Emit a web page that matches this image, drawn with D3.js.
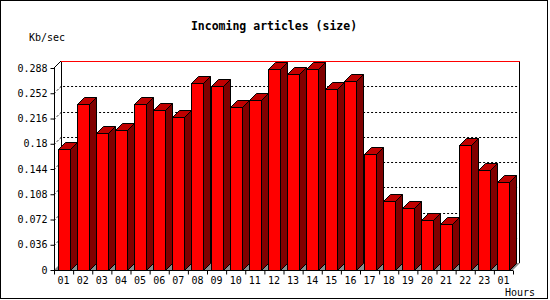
<!DOCTYPE html>
<html>
<head>
<meta charset="utf-8">
<script src="https://cdn.jsdelivr.net/npm/d3@7"></script>
<style>
  body { margin: 0; background: #fff; }
  text { font-family: "DejaVu Sans Mono", monospace; }
</style>
</head>
<body>
<svg id="graph" width="550" height="300"></svg>
<script>
// Hour labels along the x axis
var hours = ["01", "02", "03", "04", "05", "06", "07", "08", "09", "10", "11", "12",
             "13", "14", "15", "16", "17", "18", "19", "20", "21", "22", "23", "01"];

// Incoming article size, Kb/sec
var values = [0.173, 0.236, 0.195, 0.199, 0.236, 0.228, 0.218, 0.267, 0.262, 0.232, 0.242, 0.287,
              0.279, 0.286, 0.258, 0.270, 0.165, 0.098, 0.089, 0.072, 0.066, 0.178, 0.142, 0.125];

// Y tick values and their labels
var yTicks = [0, 0.036, 0.072, 0.108, 0.144, 0.18, 0.216, 0.252, 0.288];
var yLabels = ["0", "0.036", "0.072", "0.108", "0.144", "0.18", "0.216", "0.252", "0.288"];

var svg = d3.select("#graph"),
    width = +svg.attr("width"),
    height = +svg.attr("height"),
    margin = {top: 68, right: 37, bottom: 30, left: 54};

// 3D depth offset
var depth = 7;

var x0 = margin.left, x1 = width - margin.right,
    y0 = height - margin.bottom, y1 = margin.top;

// Scales
var yScale = d3.scaleLinear().domain([0, 0.288]).range([y0, y1]);
var xPos = d3.scaleLinear().domain([0, hours.length]).range([x0, x1]);
var xBand = d3.scaleBand().domain(d3.range(hours.length)).range([x0, x1])
    .paddingInner(0.37).paddingOuter(0.185);

// Outer border
svg.append("rect").attr("x", 0.5).attr("y", 0.5).attr("width", 547).attr("height", 298)
    .attr("fill", "#fff").attr("stroke", "#000");

// Title and axis names
svg.append("text").attr("x", 274).attr("y", 30).attr("text-anchor", "middle")
    .style("font-size", "11.5px").style("font-weight", "bold").text("Incoming articles (size)");
svg.append("text").attr("x", 29).attr("y", 41).style("font-size", "10px").text("Kb/sec");
svg.append("text").attr("x", 505).attr("y", 296).style("font-size", "10px").text("Hours");

// Floor
svg.append("path")
    .attr("d", "M" + x0 + "," + y0 + "L" + (x0 + depth) + "," + (y0 - depth) +
               "L" + (x1 + depth) + "," + (y0 - depth) + "L" + x1 + "," + y0 + "Z")
    .attr("fill", "#8c8c8c");

// Back wall edges
svg.append("line").attr("x1", x0 + depth + 0.5).attr("x2", x0 + depth + 0.5)
    .attr("y1", y1 - depth).attr("y2", y0 - depth).attr("stroke", "#000");
svg.append("line").attr("x1", x1 + depth - 0.5).attr("x2", x1 + depth - 0.5)
    .attr("y1", y1 - depth).attr("y2", y0 - depth).attr("stroke", "#000");
svg.append("line").attr("x1", x0).attr("x2", x0 + depth)
    .attr("y1", y1).attr("y2", y1 - depth).attr("stroke", "#000");
svg.append("line").attr("x1", x0 + depth).attr("x2", x1 + depth)
    .attr("y1", y1 - depth + 0.5).attr("y2", y1 - depth + 0.5).attr("stroke", "#f00");

// Dotted grid lines on the side and back walls
yTicks.slice(1, -1).forEach(function(t) {
    var y = Math.round(yScale(t)) + 0.5;
    svg.append("path")
        .attr("d", "M" + x0 + "," + y + "L" + (x0 + depth) + "," + (y - depth) +
                   "L" + (x1 + depth) + "," + (y - depth))
        .attr("fill", "none").attr("stroke", "#000").attr("stroke-dasharray", "2,2");
});

// Bars
var bars = svg.append("g").attr("stroke", "#000").attr("stroke-linejoin", "miter");
values.forEach(function(v, i) {
    var bx0 = Math.round(xBand(i)) + 0.5,
        bx1 = bx0 + Math.round(xBand.bandwidth()),
        by = Math.round(yScale(v)) + 0.5,
        bb = y0 + 0.5;
    // side
    bars.append("path")
        .attr("d", "M" + bx1 + "," + by + "L" + (bx1 + depth) + "," + (by - depth) +
                   "L" + (bx1 + depth) + "," + (bb - depth) + "L" + bx1 + "," + bb + "Z")
        .attr("fill", "#800000");
    // top
    bars.append("path")
        .attr("d", "M" + bx0 + "," + by + "L" + (bx0 + depth) + "," + (by - depth) +
                   "L" + (bx1 + depth) + "," + (by - depth) + "L" + bx1 + "," + by + "Z")
        .attr("fill", "#c00000");
    // front
    bars.append("rect").attr("x", bx0).attr("y", by)
        .attr("width", bx1 - bx0).attr("height", bb - by)
        .attr("fill", "#ff0000");
});

// Y axis
var yAxis = d3.axisLeft(yScale).tickValues(yTicks).tickSize(4).tickPadding(3)
    .tickFormat(function(d, i) { return yLabels[i]; });
var gy = svg.append("g").attr("transform", "translate(" + (x0 + 0.5) + ",0)").call(yAxis);
gy.select(".domain").attr("d", "M0," + y1 + "V" + (y0 + 0.5));
gy.selectAll("text").style("font-size", "10px").style("font-family", "DejaVu Sans Mono").attr("fill", "#000");

// X axis, ticks at the hour boundaries
var xAxis = d3.axisBottom(xPos).tickValues(d3.range(hours.length + 1)).tickSize(4)
    .tickFormat("");
var gx = svg.append("g").attr("transform", "translate(0," + (y0 + 0.5) + ")").call(xAxis);
gx.select(".domain").attr("d", "M" + x0 + ",0H" + x1);
gx.selectAll(".label").data(hours).enter().append("text")
    .attr("x", function(d, i) { return xPos(i + 0.5); })
    .attr("y", 13.5)
    .attr("text-anchor", "middle")
    .attr("fill", "#000")
    .style("font-size", "10px")
    .text(function(d) { return d; });
</script>
</body>
</html>
